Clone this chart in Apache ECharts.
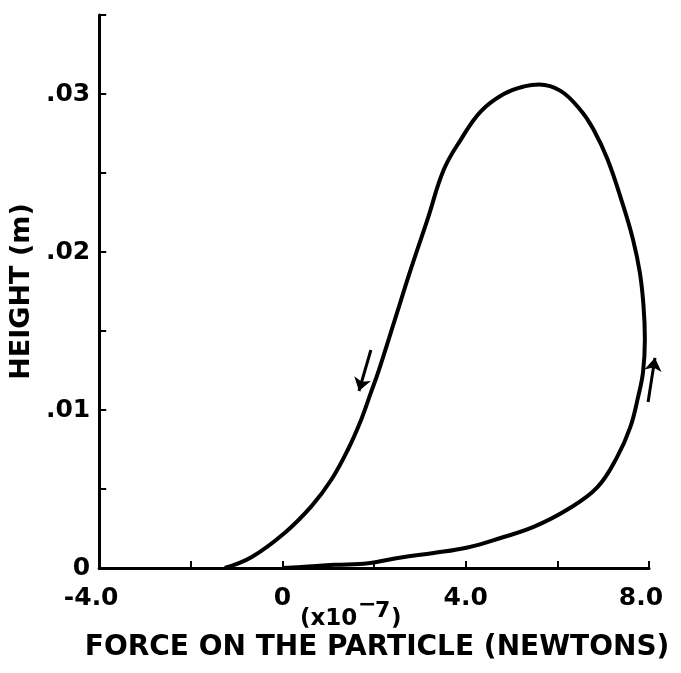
<!DOCTYPE html>
<html>
<head>
<meta charset="utf-8">
<script src="https://cdn.jsdelivr.net/npm/echarts@6/dist/echarts.min.js"></script>
<style>
  html, body { margin: 0; padding: 0; background: #fff; }
  #chart { width: 681px; height: 673px; }
</style>
</head>
<body>
<div id="chart"></div>
<script>
// Loop traced counter-clockwise: along the bottom, up the right side, down the left side.
// Force in units of 1e-7 N, height in metres.
const forceX = [
  0.00, 0.41, 1.13, 1.87, 2.59, 3.30, 4.04, 4.76, 5.48, 6.22, 6.87, 7.30, 7.59, 7.76,
  7.87, 7.91, 7.88, 7.80, 7.65, 7.43, 7.09, 6.78, 6.50, 6.07, 5.60, 5.30, 4.83, 4.33,
  3.89, 3.52, 3.17, 2.80, 2.43, 2.09, 1.93, 1.72, 1.43, 1.07, 0.63, 0.04, -0.67, -1.26
];
const heightY = [
  0.0000, 0.00006, 0.0002, 0.0003, 0.00067, 0.00095, 0.0013, 0.0019, 0.0026, 0.0037, 0.0051, 0.0070, 0.0089, 0.0108,
  0.0124, 0.0145, 0.0166, 0.0187, 0.0208, 0.0230, 0.0259, 0.0278, 0.0290, 0.0302, 0.0306, 0.0305, 0.0300, 0.0289,
  0.0271, 0.0252, 0.0221, 0.0189, 0.0155, 0.0124, 0.0111, 0.0094, 0.0075, 0.0056, 0.0039, 0.0022, 0.0007, 0.0000
];

// Direction arrows: [tail, head] in data units
const arrowDown = [[1.93, 0.0138], [1.67, 0.0112]];
const arrowUp = [[7.98, 0.0105], [8.13, 0.0133]];

const xTickLabels = { '-4': '-4.0', '0': '0', '4': '4.0', '8': '8.0' };
const yTickLabels = { '0': '0', '10': '.01', '20': '.02', '30': '.03' };

const loop = forceX.map((f, i) => [f, heightY[i]]);

const FONT = '"DejaVu Sans", sans-serif';
const chart = echarts.init(document.getElementById('chart'));

chart.setOption({
  animation: false,
  backgroundColor: '#fff',
  grid: { left: 98, right: 32, top: 15, bottom: 105 },
  xAxis: {
    type: 'value', min: -4, max: 8, interval: 2,
    name: 'FORCE ON THE PARTICLE (NEWTONS)',
    nameLocation: 'middle', nameGap: 66,
    nameTextStyle: { fontFamily: FONT, fontWeight: 'bold', fontSize: 28, color: '#000', padding: [0, 0, 0, 6] },
    axisLine: { onZero: false, lineStyle: { color: '#000', width: 3 } },
    axisTick: { inside: true, length: 7, lineStyle: { color: '#000', width: 2 } },
    splitLine: { show: false },
    axisLabel: {
      margin: 18, color: '#000',
      fontFamily: FONT, fontWeight: 'bold', fontSize: 25,
      formatter: v => {
        const t = xTickLabels[String(Math.round(v))];
        if (t === undefined) return '';
        if (v === -4 || v === 8) return '{s|' + t + '}';
        return t;
      },
      rich: { s: { fontFamily: FONT, fontWeight: 'bold', fontSize: 25, color: '#000', padding: [0, 16, 0, 0] } }
    }
  },
  yAxis: {
    type: 'value', min: 0, max: 0.035, interval: 0.005,
    name: 'HEIGHT (m)',
    nameLocation: 'middle', nameGap: 60, nameRotate: 90,
    nameTextStyle: { fontFamily: FONT, fontWeight: 'bold', fontSize: 27, color: '#000' },
    axisLine: { onZero: false, lineStyle: { color: '#000', width: 3 } },
    axisTick: { inside: true, length: 7, lineStyle: { color: '#000', width: 2 } },
    splitLine: { show: false },
    axisLabel: {
      margin: 9, color: '#000',
      fontFamily: FONT, fontWeight: 'bold', fontSize: 25,
      formatter: v => {
        const t = yTickLabels[String(Math.round(v * 1000))];
        return t === undefined ? '' : t;
      }
    }
  },
  graphic: [
    {
      type: 'group', left: 300, top: 594,
      children: [
        { type: 'text', x: 0, y: 14, style: { text: '(x10', font: 'bold 23px "DejaVu Sans", sans-serif', fill: '#000' } },
        { type: 'text', x: 58, y: 0, style: { text: '\u2212', font: 'bold 22px "DejaVu Sans", sans-serif', fill: '#000' } },
        { type: 'text', x: 75, y: 6, style: { text: '7', font: 'bold 22px "DejaVu Sans", sans-serif', fill: '#000' } },
        { type: 'text', x: 91, y: 14, style: { text: ')', font: 'bold 23px "DejaVu Sans", sans-serif', fill: '#000' } }
      ]
    }
  ],
  series: [
    {
      type: 'line',
      data: loop,
      smooth: 0.4,
      showSymbol: false,
      lineStyle: { color: '#000', width: 4 },
      z: 3
    },
    {
      type: 'lines',
      coordinateSystem: 'cartesian2d',
      clip: false,
      symbol: ['none', 'arrow'],
      symbolSize: 13,
      lineStyle: { color: '#000', width: 3, opacity: 1 },
      data: [{ coords: arrowDown }, { coords: arrowUp }],
      z: 4
    }
  ]
});
</script>
</body>
</html>
